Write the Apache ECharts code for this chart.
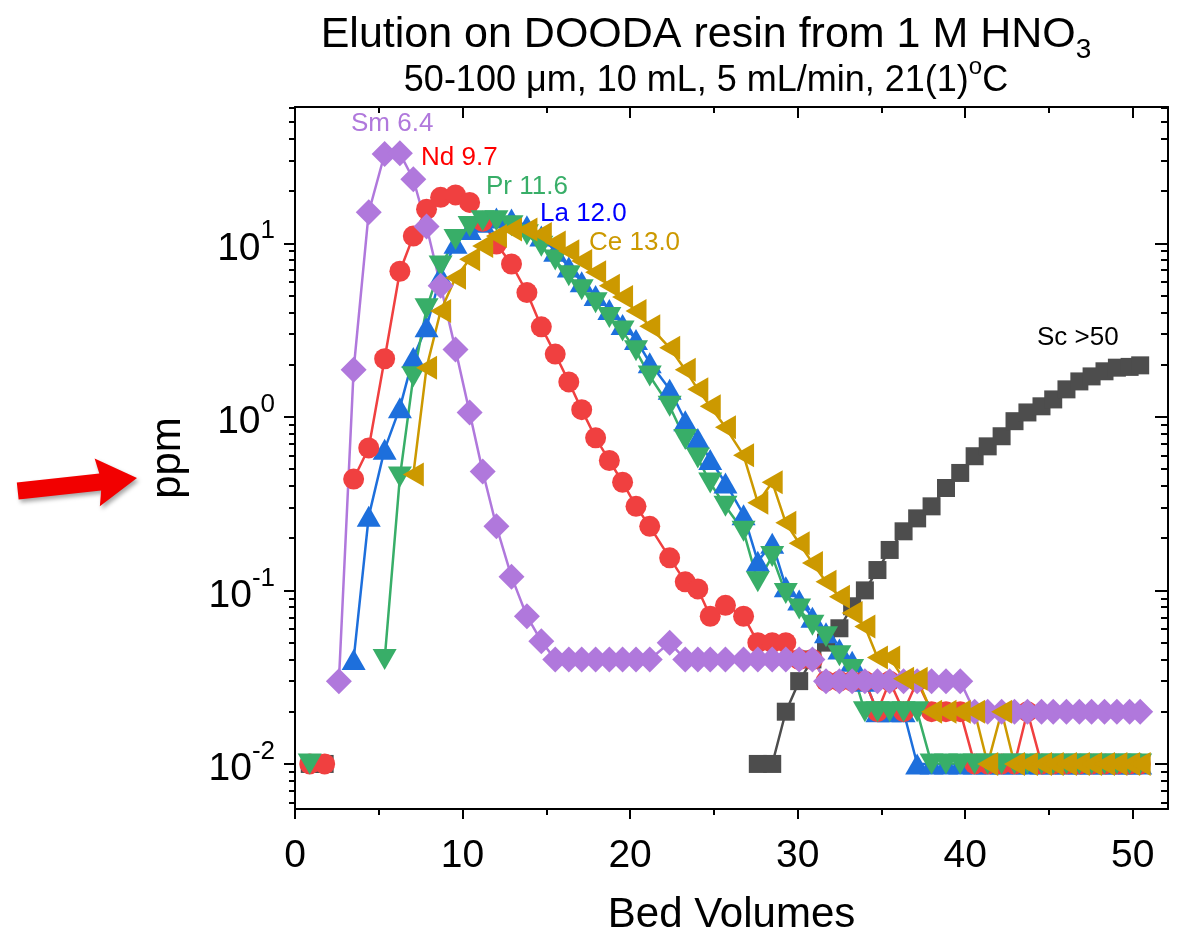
<!DOCTYPE html>
<html>
<head>
<meta charset="utf-8">
<script src="https://cdn.jsdelivr.net/npm/echarts@6/dist/echarts.min.js"></script>
<style>
html,body{margin:0;padding:0;background:#fff;}
#chart{width:1181px;height:940px;}
</style>
</head>
<body>
<div id="chart"></div>
<script>
// ---------------- data ----------------
const bedVolumes = [0.88, 1.77, 2.62, 3.50, 4.40, 5.35, 6.26, 7.06, 7.85, 8.69, 9.58, 10.42, 11.20, 12.02, 12.92, 13.84, 14.70, 15.53, 16.34, 17.11, 17.94, 18.76, 19.55, 20.35, 21.17, 22.36, 23.29, 24.04, 24.78, 25.69, 26.77, 27.62, 28.48, 29.29, 30.09, 30.88, 31.69, 32.49, 33.25, 34.01, 34.76, 35.49, 36.32, 37.13, 37.99, 38.85, 39.70, 40.56, 41.34, 42.17, 42.94, 43.71, 44.55, 45.25, 46.04, 46.81, 47.54, 48.31, 49.05, 49.81, 50.44];

const smValues = [null, null, 0.030, 1.87, 15.1, 32.7, 33.0, 23.4, 12.5, 5.7, 2.44, 1.06, 0.485, 0.234, 0.120, 0.071, 0.051, 0.040,
  0.04, 0.04, 0.04, 0.04, 0.04, 0.04, 0.04, 0.05,
  0.04, 0.04, 0.04, 0.04, 0.04, 0.04, 0.04, 0.04, 0.04, 0.04,
  0.03, 0.03, 0.03, 0.03, 0.03, 0.03, 0.03, 0.03, 0.03, 0.03, 0.03,
  0.02, 0.02, 0.02, 0.02, 0.02, 0.02, 0.02, 0.02, 0.02, 0.02, 0.02, 0.02, 0.02, 0.02];

const ndValues = [0.01, 0.01, null, 0.438, 0.662, 2.16, 6.9, 11.0, 15.7, 18.4, 19.0, 17.2, 13.4, 9.9, 7.6, 5.2, 3.3, 2.3, 1.59, 1.10,
  0.757, 0.56, 0.42, 0.305, 0.234, 0.154, 0.112, 0.102, 0.071, 0.082, 0.071, 0.05, 0.05, 0.05, 0.04, 0.04,
  0.03, 0.03, 0.03, 0.03, 0.02, 0.03, 0.02, 0.03, 0.02, 0.02, 0.02, 0.01, 0.01, 0.01, 0.01, 0.02, 0.01,
  0.01, 0.01, 0.01, 0.01, 0.01, 0.01, 0.01, 0.01];

const laValues = [null, null, null, 0.04, 0.267, 0.65, 1.13, 2.2, 3.3, 6.5, 10.0, 12.0, 13.2, 14.0, 13.8, 12.6, 11.0, 9.0, 7.3, 6.0,
  5.0, 4.16, 3.41, 2.79, 2.05, 1.44, 0.95, 0.75, 0.567, 0.416, 0.273, 0.147, 0.187, 0.105, 0.088, 0.07,
  0.057, 0.046, 0.039, 0.03, 0.02, 0.02, 0.02, 0.01,
  0.01, 0.01, 0.01, 0.01, 0.01, 0.01, 0.01, 0.01, 0.01, 0.01, 0.01, 0.01, 0.01, 0.01, 0.01, 0.01, 0.01];

const prValues = [0.01, null, null, null, null, 0.04, 0.45, 1.7, 4.2, 7.4, 10.5, 12.5, 13.5, 13.5, 12.6, 11.2, 9.6, 8.0, 6.5, 5.4,
  4.55, 3.73, 3.12, 2.4, 1.72, 1.15, 0.74, 0.58, 0.416, 0.305, 0.219, 0.112, 0.157, 0.096, 0.078, 0.063,
  0.054, 0.042, 0.035, 0.02, 0.02, 0.02, 0.02, 0.02, 0.01,
  0.01, 0.01, 0.01, 0.01, 0.01, 0.01, 0.01, 0.01, 0.01, 0.01, 0.01, 0.01, 0.01, 0.01, 0.01, 0.01];

const ceValues = [null, null, null, null, null, null, null, 0.465, 1.92, 4.07, 6.34, 8.1, 9.65, 11.0, 12.0, 12.0, 11.3, 10.1, 9.0, 7.9,
  6.8, 5.7, 4.9, 4.07, 3.33, 2.5, 1.87, 1.44, 1.15, 0.87, 0.6, 0.32, 0.42, 0.245, 0.187, 0.144,
  0.112, 0.092, 0.074, 0.062, 0.041, 0.041, 0.031, 0.031, 0.02, 0.02, 0.02, 0.02, 0.01, 0.02,
  0.01, 0.01, 0.01, 0.01, 0.01, 0.01, 0.01, 0.01, 0.01, 0.01, 0.01];

const scValues = [0.01, 0.01,
  null, null, null, null, null, null, null, null, null, null, null, null, null, null, null, null, null, null, null, null,
  null, null, null, null, null, null, null, null, null,
  0.01, 0.01, 0.02, 0.03, 0.04, 0.05, 0.0605, 0.081, 0.10, 0.131, 0.171, 0.219, 0.26, 0.305, 0.389, 0.475,
  0.593, 0.676, 0.773, 0.944, 1.06, 1.15, 1.26, 1.44, 1.6, 1.71, 1.83, 1.92, 1.94, 1.98];

const xMajorTicks = [0, 10, 20, 30, 40, 50];
const xMinorTicks = [5, 15, 25, 35, 45];
const yMajorTicks = [0.01, 0.1, 1, 10];
const yMinorTicks = [0.006, 0.007, 0.008, 0.009,
  0.02, 0.03, 0.04, 0.05, 0.06, 0.07, 0.08, 0.09,
  0.2, 0.3, 0.4, 0.5, 0.6, 0.7, 0.8, 0.9,
  2, 3, 4, 5, 6, 7, 8, 9,
  20, 30, 40, 50, 60];

const peakLabels = [
  { text: 'Sm 6.4', color: '#B078DC', x: 351, y: 124 },
  { text: 'Nd 9.7', color: '#FF0000', x: 421, y: 158 },
  { text: 'Pr 11.6', color: '#38AE68', x: 486, y: 187 },
  { text: 'La 12.0', color: '#0000FF', x: 540, y: 214 },
  { text: 'Ce 13.0', color: '#CC9900', x: 589, y: 243 },
  { text: 'Sc >50', color: '#000000', x: 1037, y: 338 }
];

// ---------------- chart ----------------
const FONT = '"Liberation Sans", Arial, Helvetica, sans-serif';
const X_MIN = 0, X_MAX = 52.1, Y_MIN = 0.0055, Y_MAX = 61;

function pairs(vals) {
  return bedVolumes.map((x, i) => [x, vals[i] == null ? '-' : vals[i]]);
}

const seriesDefs = [
  { name: 'Sc', vals: scValues, color: '#4D4D4D', symbol: 'rect', size: 18, rot: 0 },
  { name: 'La', vals: laValues, color: '#1D6FDC', symbol: 'triangle', size: [24, 21], rot: 0 },
  { name: 'Nd', vals: ndValues, color: '#F04040', symbol: 'circle', size: 21, rot: 0 },
  { name: 'Pr', vals: prValues, color: '#38AE68', symbol: 'triangle', size: [24, 21], rot: 180 },
  { name: 'Sm', vals: smValues, color: '#B078DC', symbol: 'diamond', size: 26, rot: 0 },
  { name: 'Ce', vals: ceValues, color: '#CC9900', symbol: 'triangle', size: [24, 21], rot: 90 }
];

const series = seriesDefs.map(d => ({
  name: d.name,
  type: 'line',
  xAxisIndex: 0,
  yAxisIndex: 0,
  data: pairs(d.vals),
  symbol: d.symbol,
  symbolSize: d.size,
  symbolRotate: d.rot,
  showSymbol: true,
  showAllSymbol: true,
  connectNulls: false,
  lineStyle: { color: d.color, width: 2.5 },
  itemStyle: { color: d.color, borderWidth: 0 },
  emphasis: { disabled: true },
  animation: false
}));

const axisLineStyle = { color: '#000', width: 2 };

function xAxisDef(pos, ticks, len, inside, withLine, withLabel) {
  return {
    type: 'value', position: pos, min: X_MIN, max: X_MAX,
    splitLine: { show: false },
    axisLine: { show: withLine, onZero: false, lineStyle: axisLineStyle },
    axisTick: { show: true, inside: inside, length: len, customValues: ticks, lineStyle: { color: '#000', width: 2 } },
    axisLabel: { show: withLabel, customValues: ticks, fontSize: 39, color: '#000', fontFamily: FONT, margin: 28 }
  };
}

function yAxisDef(pos, ticks, len, inside, withLine, withLabel) {
  return {
    type: 'log', logBase: 10, position: pos, min: Y_MIN, max: Y_MAX,
    splitLine: { show: false },
    axisLine: { show: withLine, onZero: false, lineStyle: axisLineStyle },
    axisTick: { show: true, inside: inside, length: len, customValues: ticks, lineStyle: { color: '#000', width: 2 } },
    axisLabel: {
      show: withLabel, customValues: ticks, margin: 20, color: '#000', fontFamily: FONT,
      formatter: v => {
        const e = Math.round(Math.log10(v));
        return '{b|10}{s|' + (e < 0 ? '-' + (-e) : e) + '}';
      },
      rich: {
        b: { fontSize: 39, fontFamily: FONT, color: '#000', lineHeight: 50, verticalAlign: 'bottom' },
        s: { fontSize: 26, fontFamily: FONT, color: '#000', lineHeight: 28, verticalAlign: 'top' }
      }
    }
  };
}

const xAxes = [
  xAxisDef('bottom', xMajorTicks, 10, false, true, true),
  xAxisDef('bottom', xMinorTicks, 6, false, false, false),
  xAxisDef('top', xMajorTicks, 11, true, true, false),
  xAxisDef('top', xMinorTicks, 6, true, false, false)
];
xAxes[0].name = 'Bed Volumes';
xAxes[0].nameLocation = 'middle';
xAxes[0].nameGap = 85;
xAxes[0].nameTextStyle = { fontSize: 42, color: '#000', fontFamily: FONT };

const yAxes = [
  yAxisDef('left', yMajorTicks, 11, false, true, true),
  yAxisDef('left', yMinorTicks, 6, false, false, false),
  yAxisDef('right', yMajorTicks, 13, true, true, false),
  yAxisDef('right', yMinorTicks, 7, true, false, false)
];
yAxes[0].name = 'ppm';
yAxes[0].nameLocation = 'middle';
yAxes[0].nameGap = 106;
yAxes[0].nameRotate = 90;
yAxes[0].nameTextStyle = { fontSize: 42, color: '#000', fontFamily: FONT };

const graphics = peakLabels.map(l => ({
  type: 'text', x: l.x, y: l.y, z: 100,
  style: { text: l.text, fill: l.color, font: '26px ' + FONT, textVerticalAlign: 'middle', verticalAlign: 'middle' }
}));

// red arrow pointing at the y-axis title
graphics.push({
  type: 'polygon', x: 137, y: 478, rotation: 0.109, z: 100,
  shape: { points: [[0, 0], [-40, -24], [-37, -8.5], [-120, -8.5], [-120, 8.5], [-37, 8.5], [-40, 24]] },
  style: { fill: '#F20000', shadowBlur: 4, shadowOffsetX: 2, shadowOffsetY: 3, shadowColor: 'rgba(0,0,0,0.35)' }
});

const option = {
  backgroundColor: '#fff',
  animation: false,
  title: [
    {
      text: '{m|Elution on DOODA resin from 1 M HNO}{u|3}',
      left: 701, top: 9, textAlign: 'center',
      textStyle: {
        fontWeight: 'normal',
        rich: {
          m: { fontSize: 43, fontWeight: 'normal', fontFamily: FONT, color: '#000', lineHeight: 50, verticalAlign: 'top' },
          u: { fontSize: 28, fontWeight: 'normal', fontFamily: FONT, color: '#000', lineHeight: 30, verticalAlign: 'bottom' }
        }
      }
    },
    {
      text: '{m|50-100 \u03bcm, 10 mL, 5 mL/min, 21(1)}{p|o}{m|C}',
      left: 701, top: 50, textAlign: 'center',
      textStyle: {
        fontWeight: 'normal',
        rich: {
          m: { fontSize: 36, fontWeight: 'normal', fontFamily: FONT, color: '#000', lineHeight: 44, verticalAlign: 'bottom' },
          p: { fontSize: 24, fontWeight: 'normal', fontFamily: FONT, color: '#000', lineHeight: 26, verticalAlign: 'top' }
        }
      }
    }
  ],
  grid: { left: 295, right: 13, top: 107, bottom: 131, containLabel: false, outerBoundsMode: 'none' },
  xAxis: xAxes,
  yAxis: yAxes,
  series: series,
  graphic: graphics
};

const chart = echarts.init(document.getElementById('chart'), null, { renderer: 'canvas' });
chart.setOption(option);
</script>
</body>
</html>
